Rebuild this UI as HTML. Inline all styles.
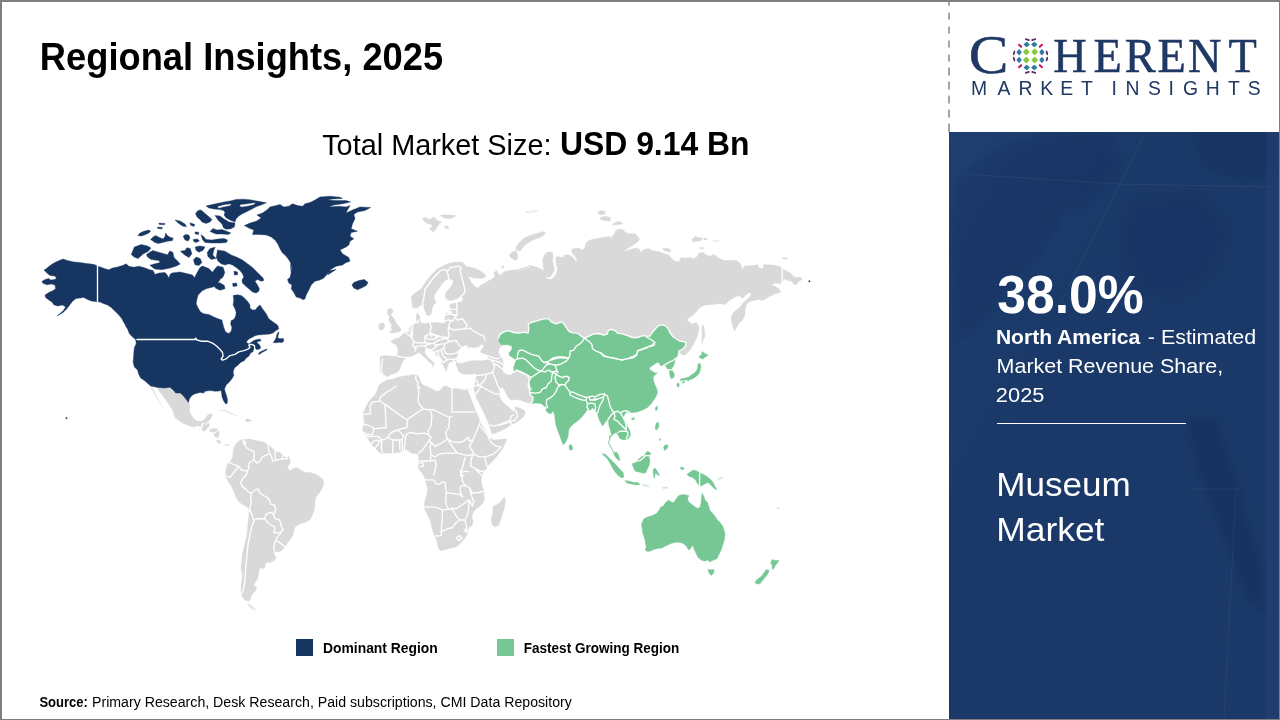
<!DOCTYPE html>
<html lang="en"><head><meta charset="utf-8"><title>Regional Insights, 2025</title>
<style>
*{margin:0;padding:0;box-sizing:border-box}
html,body{width:1280px;height:720px;overflow:hidden;background:#fff}
body{position:relative;font-family:"Liberation Sans",sans-serif}
.t{position:absolute;white-space:nowrap;line-height:1;transform-origin:0 0}
.abs{position:absolute}
#frame{position:absolute;left:0;top:0;width:1280px;height:720px;border-style:solid;border-color:#7f7f7f;border-width:2px 1px 1px 2px;pointer-events:none}
#panel{position:absolute;left:949px;top:132px;width:331px;height:588px;background:#1a3968;overflow:hidden}
#dash{position:absolute;left:948px;top:0;width:2px;height:132px;background:repeating-linear-gradient(to bottom,#a6a6a6 0,#a6a6a6 7.5px,transparent 7.5px,transparent 13.9px);background-position:0 -1.4px}
#rule{position:absolute;left:997px;top:423px;width:189px;height:1.3px;background:#fff}
.sw{position:absolute;width:17px;height:17px;top:639px}
svg{position:absolute;left:0;top:0}
</style></head>
<body>
<div id="panel"><svg width="330" height="587" viewBox="949 132 330 587" aria-hidden="true" style="left:0;top:0"><defs><linearGradient id="pg" x1="0" y1="0" x2="1" y2="1"><stop offset="0" stop-color="#1e3f70"/><stop offset="0.35" stop-color="#1a3968"/><stop offset="1" stop-color="#1a3968"/></linearGradient><filter id="bl" x="-20%" y="-20%" width="140%" height="140%"><feGaussianBlur stdDeviation="3"/></filter></defs><rect x="949" y="132" width="330" height="587" fill="url(#pg)"/><g filter="url(#bl)" fill="#142e5c" opacity="0.55"><path d="M960,180 L1000,150 L1050,135 L1110,133 L1120,170 L1090,200 L1060,215 L1040,250 L1020,280 L1000,300 L975,330 L955,340 L950,240Z" opacity="0.5"/><path d="M1195,132 L1279,132 L1279,175 L1240,178 L1205,165Z" opacity="0.6"/><path d="M1188,420 L1215,420 L1225,450 L1235,480 L1245,520 L1258,560 L1262,610 L1250,600 L1235,560 L1215,510 L1200,470Z"/><path d="M1130,200 L1200,195 L1230,230 L1215,270 L1180,300 L1140,290 L1120,250Z" opacity="0.35"/></g><g stroke="#fff" fill="none" stroke-width="0.8" opacity="0.07"><path d="M962,174 L1120,184 L1270,187"/><path d="M1145,132 L1100,225 L1062,300"/><path d="M1190,489 L1240,489"/><path d="M1236,489 L1224,719"/></g><rect x="1266" y="132" width="14" height="587" fill="#3a4f8c" opacity="0.22"/></svg></div>
<div id="dash"></div>
<svg id="map" width="1280" height="720" viewBox="0 0 1280 720" role="img" aria-label="World map">
<defs><filter id="soft" x="0" y="0" width="100%" height="100%" filterUnits="userSpaceOnUse"><feGaussianBlur stdDeviation="0.45"/></filter></defs>
<g filter="url(#soft)">
<path d="M150.0,386.2 L152.5,387.2 L155.0,392.5 L157.5,397.5 L160.0,402.5 L162.5,406.9 L163.8,408.5 L161.2,405.6 L158.8,401.2 L155.6,396.2 L153.1,391.9 L151.2,389.0Z M223.8,444.4 L227.5,444.0 L230.0,445.0 L227.5,446.0 L225.0,445.6Z M217.5,410.6 L225.0,410.0 L232.5,413.5 L238.8,416.5 L232.5,414.5 L225.0,411.2Z M247.5,603.1 L251.2,604.4 L256.2,610.0 L252.5,609.4 L249.4,606.9Z M416.9,360.6 L418.8,360.6 L418.8,365.0 L417.0,365.0Z M417.2,356.2 L418.5,356.2 L418.5,359.4 L417.5,359.4Z M450.0,375.0 L455.0,374.8 L455.0,375.8 L450.2,376.0Z M468.1,376.9 L471.2,376.0 L471.5,377.2 L468.8,377.8Z M712.5,240.2 L719.4,240.8 L719.0,241.8 L713.1,241.2Z M525.0,211.9 L531.2,211.2 L537.5,210.2 L537.2,211.2 L531.2,212.5 L525.6,212.9Z M407.8,330.0 L410.0,326.9 L412.2,325.0 L412.5,327.5 L411.2,330.0 L408.8,331.0Z" fill="#e8e8e8" stroke="#e8e8e8" stroke-width="0.4" stroke-linejoin="round"/>
<path d="M717.5,478.8 L722.5,477.2 L722.8,478.2 L718.0,479.8Z M642.5,484.4 L648.8,485.6 L648.5,486.5 L642.5,485.2Z M662.5,487.5 L667.5,486.9 L667.5,488.1 L663.1,488.8Z M776.9,507.8 L779.4,508.2 L779.1,509.0 L777.0,508.8Z" fill="#c4e7d1" stroke="#c4e7d1" stroke-width="0.4" stroke-linejoin="round"/>
<path d="M157.5,387.8 L166.9,388.1 L170.6,389.0 L174.4,392.5 L179.4,393.1 L183.1,396.2 L186.2,399.8 L189.0,402.2 L189.8,406.2 L189.4,410.6 L191.2,415.0 L193.8,418.8 L197.5,421.2 L202.5,421.2 L205.6,418.1 L208.1,414.4 L212.5,414.0 L211.2,417.5 L208.8,421.0 L206.2,422.8 L203.1,423.1 L201.2,426.9 L197.5,425.6 L193.8,426.9 L190.0,426.2 L186.2,424.4 L182.5,423.1 L178.8,420.6 L175.0,417.5 L173.8,413.8 L172.5,410.0 L170.0,406.2 L167.5,402.5 L165.0,398.8 L161.9,394.4 L158.8,390.6Z M203.1,423.1 L205.0,422.5 L205.6,426.2 L207.5,423.1 L209.4,423.8 L208.8,426.9 L206.2,429.4 L204.4,431.2 L201.9,430.0 L202.5,426.9Z M208.8,430.0 L211.9,428.8 L216.2,428.5 L218.1,430.0 L215.0,431.9 L211.2,432.2Z M213.8,434.4 L216.9,431.9 L219.4,431.2 L219.0,435.0 L218.1,437.8 L215.0,436.9Z M216.5,440.6 L218.8,440.0 L221.2,442.5 L220.0,443.8 L217.8,442.5Z M245.0,420.6 L246.9,418.5 L250.0,419.8 L251.9,420.6 L247.5,421.9Z M233.8,447.5 L237.5,441.9 L242.5,439.0 L246.2,439.4 L250.0,438.8 L255.0,440.6 L260.0,441.2 L265.0,442.5 L268.1,445.6 L271.9,447.5 L275.0,451.9 L280.0,452.5 L283.8,456.2 L287.5,458.1 L288.8,456.2 L290.6,461.9 L287.5,467.5 L290.0,470.6 L293.1,468.8 L296.2,467.5 L300.0,469.4 L305.0,472.5 L310.0,472.5 L315.0,473.8 L320.0,476.9 L323.1,479.4 L323.8,483.8 L321.9,488.8 L318.8,493.8 L316.2,496.2 L315.0,501.2 L314.8,506.2 L313.8,511.2 L311.9,516.2 L310.0,520.0 L310.0,519.4 L306.2,521.9 L300.0,523.8 L295.0,526.9 L293.8,531.2 L293.1,535.0 L290.0,539.4 L287.5,543.1 L285.6,546.2 L283.8,548.1 L281.9,550.6 L278.8,551.9 L275.0,551.2 L273.8,553.1 L275.0,555.6 L276.2,558.1 L274.4,560.6 L271.2,562.2 L266.2,562.8 L265.0,566.2 L264.4,568.5 L260.0,568.1 L258.8,571.2 L258.5,575.0 L257.5,578.8 L255.0,582.5 L253.8,585.0 L256.9,588.5 L255.0,591.2 L252.5,593.8 L251.2,596.2 L250.0,600.0 L250.0,600.0 L248.8,601.2 L245.0,600.0 L242.5,596.9 L241.9,595.0 L241.0,590.0 L241.2,585.0 L241.9,580.0 L242.5,575.0 L241.2,570.0 L241.2,565.0 L241.9,560.0 L242.5,553.8 L243.8,547.5 L245.6,541.2 L246.9,535.0 L247.5,528.8 L248.1,522.5 L248.8,516.2 L249.4,510.0 L249.4,513.8 L248.8,508.8 L246.2,506.2 L241.2,503.8 L237.5,500.0 L235.6,496.2 L233.8,491.2 L231.2,486.2 L228.1,481.2 L226.2,477.5 L225.6,473.1 L226.2,468.8 L227.5,464.4 L230.0,461.9 L232.5,457.5 L233.1,452.5Z M387.5,379.4 L378.8,385.0 L377.5,390.0 L375.0,395.0 L371.2,398.8 L367.5,403.8 L365.0,408.8 L363.1,413.1 L363.8,418.8 L364.4,423.8 L362.5,428.1 L363.1,432.5 L366.2,436.2 L368.8,440.0 L371.2,443.8 L375.0,448.1 L378.8,451.9 L381.9,453.8 L386.2,453.1 L392.5,453.1 L398.8,452.5 L403.8,450.0 L407.5,450.0 L411.2,453.1 L417.5,453.8 L418.8,457.5 L418.8,462.5 L418.1,467.5 L420.0,471.2 L420.0,470.0 L422.5,473.8 L425.0,478.8 L426.2,483.8 L427.5,488.8 L426.9,495.0 L425.0,500.0 L424.0,506.2 L425.0,510.0 L427.5,515.0 L430.0,520.0 L431.2,525.0 L432.5,530.0 L433.8,533.8 L435.0,536.9 L436.9,541.2 L438.1,546.2 L439.4,550.0 L441.2,550.6 L446.2,549.4 L451.2,548.1 L456.2,546.9 L460.0,543.8 L463.8,539.4 L466.9,535.0 L468.1,531.2 L468.8,527.5 L472.5,525.0 L473.1,521.2 L471.9,517.5 L472.5,513.8 L475.0,510.0 L478.8,506.9 L482.5,503.8 L484.4,500.0 L484.0,495.0 L483.5,490.0 L481.9,485.0 L481.2,480.0 L481.9,475.0 L484.4,470.0 L485.0,471.2 L487.5,466.2 L491.2,462.5 L495.0,458.8 L498.8,453.8 L502.5,448.8 L505.0,443.8 L506.9,438.8 L500.0,439.4 L493.8,440.0 L490.6,438.1 L491.2,433.1 L493.8,433.8 L500.0,431.2 L507.5,427.5 L511.2,423.8 L515.0,421.2 L505.0,427.5 L511.2,425.0 L516.2,422.5 L520.0,420.0 L523.8,416.2 L525.6,412.5 L523.8,410.0 L518.8,407.5 L515.0,406.2 L516.2,399.8 L520.0,400.0 L525.0,401.9 L530.5,403.2 L537.5,399.4 L556.2,400.0 L600.0,400.0 L620.0,360.0 L650.0,345.0 L672.0,345.0 L679.0,353.0 L680.0,353.1 L682.5,355.0 L685.0,355.0 L687.5,353.1 L690.0,350.0 L692.5,346.2 L695.0,341.2 L697.5,336.2 L698.8,331.2 L698.8,326.2 L696.2,322.5 L692.5,324.0 L690.0,322.5 L686.9,320.0 L688.8,318.1 L692.5,315.6 L696.2,311.9 L700.0,307.5 L705.0,305.0 L712.5,304.4 L718.8,303.8 L725.0,304.4 L730.0,300.0 L735.0,296.9 L740.0,295.6 L741.2,298.1 L743.8,297.5 L746.2,294.4 L749.4,292.5 L751.2,294.4 L748.8,297.5 L746.2,300.0 L743.1,303.1 L740.0,306.9 L736.2,310.0 L733.1,313.1 L731.2,317.5 L731.9,322.5 L733.1,327.5 L734.4,331.0 L736.2,328.1 L738.8,323.8 L742.5,320.0 L745.0,315.0 L745.0,310.0 L746.2,305.0 L748.8,301.9 L753.8,300.6 L758.8,299.4 L762.5,300.6 L768.8,296.9 L775.0,293.8 L780.0,292.5 L780.6,291.9 L778.8,288.8 L775.0,286.2 L771.2,285.0 L775.0,283.1 L780.0,283.8 L782.5,282.5 L783.8,278.8 L787.5,280.6 L791.9,281.2 L793.8,284.4 L796.9,284.4 L798.8,281.2 L802.5,279.4 L800.0,276.9 L796.2,277.5 L793.8,276.9 L791.2,273.8 L787.5,271.2 L783.1,269.4 L781.9,267.5 L778.8,266.2 L773.8,265.0 L767.5,264.8 L763.8,264.4 L762.5,268.8 L758.8,267.5 L757.5,264.4 L755.0,265.6 L750.0,265.6 L744.4,266.2 L742.5,270.0 L741.9,267.5 L740.0,263.1 L736.2,260.6 L730.0,260.2 L725.0,260.6 L720.0,258.8 L716.2,256.2 L713.8,254.4 L710.0,256.2 L706.2,255.0 L703.8,252.5 L698.8,253.1 L697.5,256.2 L693.8,258.8 L690.0,257.5 L685.0,258.1 L681.2,257.5 L678.8,261.9 L675.0,261.2 L671.2,258.1 L668.8,255.0 L665.0,253.8 L660.0,251.9 L655.0,251.2 L657.5,251.9 L652.5,250.6 L648.8,248.5 L643.8,249.4 L641.2,252.5 L640.0,250.0 L637.5,248.1 L632.5,248.8 L627.5,250.6 L623.1,251.9 L626.2,249.4 L631.2,246.2 L636.2,243.1 L639.4,240.0 L638.8,237.5 L635.0,233.8 L630.0,233.8 L625.0,232.5 L623.8,230.0 L620.0,229.0 L616.2,230.0 L615.0,232.5 L612.5,236.2 L611.2,239.4 L610.6,236.2 L606.2,236.9 L600.0,238.1 L593.8,239.0 L588.8,240.6 L585.6,243.8 L585.0,247.5 L582.5,250.0 L578.8,248.1 L573.8,248.5 L571.2,250.0 L572.5,253.8 L575.0,256.2 L576.9,260.0 L576.2,263.1 L575.0,260.0 L572.5,256.9 L568.8,254.8 L565.0,255.0 L562.5,257.5 L559.4,256.9 L556.9,256.2 L555.6,258.8 L556.2,263.8 L557.5,268.8 L556.9,272.5 L555.0,276.2 L551.2,279.4 L546.9,278.8 L545.6,276.9 L550.0,276.9 L552.5,273.8 L554.4,270.0 L553.8,266.2 L552.5,261.2 L553.1,256.2 L552.5,252.2 L547.5,251.9 L544.4,255.0 L542.5,260.0 L543.1,265.0 L543.8,271.9 L542.5,270.0 L537.5,267.5 L532.5,266.0 L528.1,265.6 L527.5,268.1 L522.5,269.8 L515.0,270.0 L508.8,270.6 L503.8,271.9 L500.0,275.0 L531.2,265.6 L528.8,267.5 L525.0,270.0 L520.0,270.6 L515.0,270.0 L510.0,271.2 L505.0,273.8 L500.0,275.6 L498.1,273.8 L496.9,270.6 L493.8,272.5 L495.0,276.9 L491.2,279.4 L487.5,281.2 L483.8,283.8 L480.0,285.6 L478.8,288.1 L475.0,286.9 L472.5,283.8 L470.0,280.0 L467.5,275.6 L470.0,276.9 L475.0,278.1 L481.2,278.5 L485.6,276.9 L485.0,274.4 L480.0,270.6 L473.8,268.1 L466.2,266.2 L462.5,262.2 L457.5,261.9 L452.5,262.5 L447.5,263.8 L442.5,266.2 L437.5,268.8 L433.8,272.5 L430.0,276.2 L426.2,281.2 L423.8,285.0 L421.2,288.8 L417.5,291.2 L413.8,293.8 L411.2,297.5 L411.9,302.5 L412.5,307.5 L416.2,308.1 L419.4,306.5 L417.5,312.5 L416.2,315.6 L416.2,320.0 L418.1,322.5 L415.0,323.8 L413.8,324.4 L412.8,326.2 L412.1,329.0 L411.5,330.9 L409.4,331.9 L406.2,332.5 L404.4,333.1 L401.9,335.0 L398.8,338.1 L395.0,338.8 L390.6,341.2 L392.5,343.1 L396.2,345.0 L398.1,350.0 L397.5,356.2 L392.5,356.2 L386.2,355.6 L380.6,356.2 L380.0,358.8 L380.6,363.8 L380.0,368.8 L380.6,372.5 L382.5,374.4 L385.0,375.0 L386.9,376.9Z M387.5,310.0 L390.0,308.1 L393.1,310.0 L392.5,312.5 L390.6,315.0 L393.8,318.1 L395.6,321.9 L397.5,325.0 L400.0,327.5 L401.2,330.0 L398.8,331.9 L395.0,332.5 L391.2,333.1 L389.4,331.9 L392.5,330.0 L390.6,328.1 L391.9,325.6 L390.0,322.5 L388.8,319.4 L389.4,316.2 L387.5,313.8Z M378.8,325.0 L380.6,323.1 L383.8,323.1 L384.8,325.6 L383.8,328.8 L380.6,330.2 L378.8,328.8Z M425.6,370.6 L430.0,370.0 L429.4,372.5 L426.9,372.2Z M468.1,348.1 L470.6,346.9 L473.8,348.1 L475.0,349.0 L472.5,350.6 L470.0,350.0Z M515.6,248.1 L519.4,242.5 L524.4,238.1 L530.6,235.2 L537.5,233.2 L543.8,231.5 L545.6,233.5 L541.9,236.5 L535.6,239.0 L530.0,241.5 L525.6,244.8 L522.5,247.8 L520.2,251.0 L517.2,250.2Z M509.0,255.6 L512.2,251.9 L516.2,250.6 L517.2,254.4 L517.8,258.8 L515.6,260.5 L511.5,258.2Z M501.5,266.5 L503.5,266.0 L504.0,267.8 L502.0,268.2Z M597.5,212.5 L601.2,210.2 L605.0,211.2 L605.0,214.0 L600.0,215.0Z M600.0,217.5 L605.0,216.2 L610.6,217.5 L610.0,221.2 L605.0,220.6 L601.2,220.0Z M611.9,225.0 L616.2,221.9 L620.0,221.2 L623.1,223.8 L617.5,224.8Z M691.9,239.4 L695.0,236.5 L698.8,237.5 L702.5,238.1 L701.2,240.6 L696.2,241.5 L693.1,241.9Z M703.8,238.1 L706.9,238.1 L706.9,240.0 L704.4,240.0Z M699.4,247.2 L703.8,247.8 L703.1,249.0 L699.8,248.5Z M662.5,248.5 L667.5,248.1 L671.2,250.0 L670.0,251.9 L666.2,251.2 L663.8,250.6Z M782.5,257.8 L787.5,257.5 L787.2,259.0 L782.8,259.0Z M422.5,218.1 L426.2,217.5 L429.4,219.4 L431.9,218.1 L433.8,216.9 L436.2,219.4 L438.8,221.2 L441.9,221.9 L438.8,224.4 L436.9,227.5 L435.0,230.6 L433.1,231.9 L430.6,230.0 L429.4,228.8 L432.5,226.2 L431.2,224.4 L428.1,223.8 L425.0,221.9 L423.1,220.0Z M440.0,215.6 L443.8,214.8 L450.0,215.0 L455.6,215.6 L453.8,217.5 L450.0,218.8 L446.2,218.5 L443.1,217.2Z M444.4,226.0 L447.5,226.2 L449.4,228.1 L446.9,228.8 L444.8,227.8Z M701.9,326.2 L703.8,325.0 L704.4,331.2 L705.0,336.2 L703.1,340.0 L702.5,343.8 L701.9,340.0 L702.2,335.0 L701.9,330.0Z M493.1,506.2 L496.2,505.0 L500.0,502.5 L502.5,499.4 L504.4,496.9 L505.6,501.2 L504.4,507.5 L502.5,513.8 L500.6,520.0 L498.8,525.0 L495.0,526.9 L492.5,525.0 L491.2,520.0 L492.5,513.8 L493.1,510.0Z" fill="#d9d9d9" stroke="#d9d9d9" stroke-width="0.4" stroke-linejoin="round"/>
<path d="M498.1,338.8 L500.0,334.4 L503.8,331.9 L508.8,330.6 L513.8,332.5 L518.8,333.1 L523.8,332.2 L528.1,333.1 L528.8,328.8 L528.1,324.4 L531.2,322.5 L537.5,320.6 L543.8,318.8 L548.8,318.8 L551.2,321.9 L556.2,323.8 L561.2,321.9 L563.8,323.8 L566.2,327.5 L568.8,331.2 L572.5,332.8 L577.5,333.1 L581.2,336.2 L584.4,338.1 L588.8,336.2 L593.8,333.8 L598.8,333.5 L603.8,335.0 L607.5,333.8 L608.1,330.6 L611.2,329.4 L615.0,330.6 L617.5,333.1 L622.5,333.8 L627.5,335.6 L632.5,337.5 L637.5,337.5 L642.5,335.6 L647.5,336.2 L650.0,336.0 L653.0,331.5 L657.0,327.0 L660.0,324.8 L663.8,325.0 L667.5,327.5 L670.0,332.5 L672.5,336.2 L676.2,338.8 L680.0,341.2 L685.0,341.9 L686.2,343.8 L684.4,347.5 L681.2,350.0 L678.8,351.2 L679.4,353.8 L678.1,352.5 L676.9,357.5 L675.0,360.6 L674.4,363.8 L672.5,367.5 L671.9,368.8 L672.5,371.2 L674.4,373.8 L673.8,377.5 L671.2,378.8 L670.0,376.2 L669.4,371.9 L668.8,370.0 L666.9,368.1 L665.0,365.0 L662.5,366.2 L660.0,365.0 L658.8,362.5 L656.2,363.1 L652.5,365.6 L649.4,368.1 L650.0,370.0 L652.5,371.2 L655.0,373.1 L657.5,372.8 L655.0,375.0 L653.1,377.5 L653.8,381.2 L655.0,385.0 L656.9,388.8 L657.5,392.5 L656.2,396.2 L653.8,400.0 L651.2,403.8 L647.5,407.5 L642.5,410.0 L637.5,411.9 L632.5,412.5 L627.5,411.9 L637.5,410.6 L633.8,411.9 L630.0,412.5 L626.9,411.9 L625.0,413.8 L623.1,417.5 L625.0,420.0 L626.2,423.8 L628.1,427.5 L630.0,431.2 L630.6,435.0 L628.8,438.1 L626.2,439.4 L623.8,440.0 L620.0,438.8 L618.1,435.0 L616.2,432.5 L613.8,433.8 L611.2,436.2 L610.0,438.8 L608.8,442.5 L610.6,446.2 L612.5,450.0 L613.8,452.5 L616.9,452.2 L618.8,455.6 L620.0,460.6 L618.1,460.0 L615.6,457.5 L614.4,455.0 L611.9,449.4 L610.0,446.2 L610.0,446.2 L608.5,443.1 L609.4,438.8 L610.0,432.5 L608.8,428.8 L607.5,423.8 L606.2,420.0 L604.4,423.8 L602.5,426.0 L600.6,422.5 L598.8,418.8 L597.5,413.8 L595.0,410.0 L592.5,408.1 L590.0,410.6 L588.1,408.8 L586.2,411.2 L582.5,416.2 L578.8,420.0 L573.8,423.8 L570.0,427.5 L568.8,430.0 L568.1,436.2 L566.2,441.2 L563.5,445.0 L561.9,441.9 L560.0,436.2 L557.5,430.0 L555.6,423.8 L555.0,418.8 L554.4,413.8 L552.5,411.2 L551.2,413.8 L548.1,413.1 L545.6,410.0 L547.5,407.5 L544.4,406.2 L541.2,403.8 L536.2,403.1 L530.6,403.5 L532.5,401.2 L533.1,397.5 L530.0,394.4 L529.4,390.0 L528.1,385.0 L529.4,380.0 L527.5,375.6 L522.5,372.5 L516.2,370.0 L531.2,377.5 L527.5,375.0 L522.5,372.5 L517.5,370.6 L513.8,371.9 L513.1,367.5 L514.4,363.8 L515.6,360.6 L512.5,358.1 L508.8,355.6 L508.8,352.5 L511.2,350.0 L511.5,346.5 L507.5,345.0 L502.5,345.6 L499.4,342.5Z M569.4,445.0 L571.2,444.4 L572.8,447.5 L572.2,450.0 L570.0,450.2 L569.0,447.5Z M631.2,418.8 L633.8,417.5 L634.8,418.8 L632.5,420.2Z M655.6,407.5 L657.2,406.0 L657.8,408.1 L656.5,410.6 L655.2,410.0Z M698.8,357.0 L701.5,354.5 L702.0,351.5 L704.5,353.2 L708.2,355.2 L705.2,357.1 L703.2,359.0 L700.5,358.2Z M698.1,363.8 L700.2,363.5 L701.0,366.9 L700.2,370.6 L698.8,374.0 L695.6,376.9 L692.5,378.8 L689.4,379.8 L688.1,381.2 L686.9,379.8 L683.1,380.2 L680.0,380.6 L680.6,379.0 L685.0,378.1 L688.8,376.9 L691.2,375.0 L694.4,373.1 L696.9,370.0 L697.8,366.9Z M676.9,383.8 L678.5,382.8 L679.4,385.0 L678.5,387.2 L677.0,386.5Z M681.9,381.9 L685.0,381.2 L684.4,382.8 L682.2,383.1Z M655.0,428.8 L656.0,423.8 L657.5,421.9 L659.0,423.8 L658.5,427.5 L656.9,430.0Z M663.5,446.9 L665.0,445.0 L667.5,444.8 L668.1,446.9 L666.2,449.4 L664.4,450.6Z M659.4,438.8 L660.6,438.8 L660.6,440.2 L659.4,440.2Z M602.5,453.5 L605.6,454.4 L610.0,458.8 L614.4,463.1 L618.8,468.1 L623.1,472.5 L624.0,476.9 L621.9,478.1 L618.1,475.6 L615.0,471.9 L611.9,466.9 L609.4,461.9 L606.2,457.5 L603.1,455.0Z M625.0,480.6 L628.8,481.0 L633.8,482.5 L638.1,482.5 L640.0,484.4 L636.2,485.0 L631.2,484.0 L626.9,483.1Z M631.9,463.8 L635.0,463.1 L637.5,460.0 L641.2,456.9 L645.0,455.6 L645.6,453.1 L647.5,451.2 L650.0,452.5 L651.2,453.8 L648.8,455.6 L650.0,460.0 L649.4,465.0 L647.5,468.8 L645.6,473.1 L642.5,473.1 L638.8,471.9 L635.0,471.2 L633.8,468.1Z M653.1,469.4 L655.0,468.1 L656.9,470.6 L658.8,473.8 L659.4,475.6 L657.5,475.0 L655.6,472.5 L655.0,475.6 L654.4,478.5 L653.5,475.0Z M679.8,468.1 L681.9,466.9 L684.4,468.5 L682.5,470.0Z M686.9,474.4 L690.0,471.9 L693.8,470.0 L697.5,471.2 L700.0,473.1 L703.8,474.4 L707.5,476.9 L711.2,480.0 L713.1,482.5 L715.0,486.2 L716.9,489.4 L714.4,488.8 L711.2,485.6 L708.1,482.5 L705.0,483.8 L702.5,485.6 L700.0,486.2 L697.5,483.8 L695.6,480.0 L692.5,477.5 L688.8,476.2Z M641.9,523.1 L643.8,518.8 L647.5,516.9 L652.5,515.6 L656.9,513.1 L660.0,508.8 L660.6,506.9 L663.1,506.2 L665.6,502.5 L668.8,500.0 L671.2,501.9 L673.8,502.5 L676.2,498.8 L678.8,495.6 L682.5,494.4 L686.2,495.0 L688.8,495.6 L687.5,498.8 L688.8,501.9 L691.9,504.4 L695.0,506.9 L698.1,508.5 L700.0,506.9 L701.0,502.5 L701.5,497.5 L702.2,493.1 L703.8,496.2 L705.0,500.0 L707.5,502.5 L708.8,506.2 L710.0,510.6 L712.5,513.1 L715.0,516.2 L717.5,520.0 L720.6,523.1 L723.1,526.9 L724.4,531.2 L725.0,535.0 L724.4,539.4 L723.1,543.8 L721.9,548.1 L720.0,552.5 L718.1,556.2 L716.9,558.8 L712.5,560.6 L710.0,561.9 L707.5,560.0 L705.0,561.2 L701.2,560.0 L698.1,557.5 L696.2,553.8 L694.4,550.0 L693.1,546.2 L691.9,545.6 L691.2,548.1 L688.8,550.0 L686.2,546.2 L683.8,543.8 L680.0,542.5 L676.2,542.2 L672.5,543.1 L668.8,544.4 L665.0,546.2 L661.9,548.1 L657.5,548.5 L653.8,549.4 L650.0,551.2 L647.5,551.5 L645.0,550.0 L646.2,547.5 L645.6,543.8 L645.0,540.0 L643.8,536.2 L642.5,532.5 L642.2,528.8 L641.5,525.6Z M707.8,569.4 L710.6,569.8 L714.0,569.4 L713.8,573.1 L711.2,575.6 L709.0,573.1Z M771.9,559.4 L773.8,560.0 L776.2,560.6 L779.0,560.2 L777.5,563.1 L775.6,565.0 L774.4,567.5 L772.8,569.8 L771.9,567.5 L772.5,565.0 L770.6,563.8 L771.5,561.2Z M766.2,569.4 L769.4,570.6 L767.5,574.4 L765.0,577.5 L762.5,580.6 L760.0,583.8 L756.9,584.0 L755.0,582.5 L756.9,579.4 L760.0,577.5 L762.5,575.0 L764.4,571.9Z" fill="#76c794" stroke="#76c794" stroke-width="0.4" stroke-linejoin="round"/>
<path d="M56.9,316.0 L61.2,312.5 L63.8,310.0 L65.6,306.9 L62.5,305.0 L57.5,306.0 L53.8,304.8 L51.9,301.9 L48.8,300.0 L45.6,297.5 L45.0,295.0 L48.8,292.5 L53.1,290.6 L55.6,288.8 L55.0,285.0 L51.2,284.0 L46.9,284.8 L42.5,283.1 L42.2,281.2 L45.0,279.4 L48.8,278.5 L50.6,280.0 L55.0,279.4 L56.5,277.8 L54.4,276.0 L50.0,275.6 L46.9,273.1 L44.0,270.0 L46.2,268.8 L50.0,265.6 L53.8,263.1 L58.1,261.0 L63.1,259.0 L67.5,260.6 L73.8,261.9 L80.0,262.5 L86.2,263.5 L91.2,264.0 L95.0,264.8 L97.5,266.2 L101.2,267.2 L105.0,268.8 L108.8,269.8 L112.5,268.1 L117.5,266.9 L122.5,265.6 L126.2,263.8 L128.8,266.2 L133.8,267.2 L138.8,266.2 L143.8,267.5 L148.8,269.4 L153.1,270.6 L155.0,274.4 L158.8,273.1 L165.0,272.5 L166.9,274.4 L168.8,278.1 L170.0,274.4 L171.9,272.9 L180.0,271.9 L187.5,273.8 L192.5,275.0 L194.4,277.8 L196.9,273.1 L200.0,267.5 L202.5,266.0 L208.8,268.5 L212.5,272.2 L215.0,268.8 L217.5,266.0 L223.1,267.2 L224.8,272.5 L223.1,276.9 L220.0,279.4 L218.1,282.8 L215.6,286.2 L211.2,287.5 L206.9,288.5 L202.5,290.6 L198.1,295.0 L196.9,299.4 L196.2,303.8 L198.1,308.1 L200.6,311.9 L203.8,313.8 L208.8,314.4 L213.8,316.9 L218.1,318.8 L221.9,320.0 L222.5,322.5 L223.8,327.5 L225.6,331.9 L228.8,333.5 L231.2,331.2 L231.9,327.5 L230.6,323.8 L231.2,320.6 L233.8,319.4 L235.6,316.2 L236.2,312.5 L235.0,308.8 L233.1,305.0 L233.8,300.0 L233.1,295.6 L237.5,294.8 L241.2,295.6 L243.8,297.5 L247.5,301.2 L250.0,305.0 L250.0,308.1 L252.5,310.0 L255.6,309.8 L257.5,306.9 L260.0,305.0 L262.5,308.8 L266.2,313.8 L268.8,318.8 L273.8,322.5 L277.5,325.0 L278.8,328.8 L275.0,331.2 L273.8,332.6 L270.0,334.1 L263.8,334.5 L258.1,334.9 L255.0,335.8 L252.5,337.2 L249.4,338.8 L246.9,340.9 L246.6,342.8 L249.4,344.1 L251.2,342.2 L253.8,340.6 L256.9,339.5 L260.3,339.2 L261.1,340.3 L260.0,341.2 L257.5,341.6 L256.9,342.8 L258.8,344.1 L260.3,346.2 L260.6,348.1 L259.1,349.2 L256.6,349.4 L255.0,348.4 L254.2,350.0 L253.8,351.2 L252.5,351.9 L250.6,353.1 L248.8,356.2 L246.2,358.1 L244.4,360.6 L240.6,362.5 L237.5,365.6 L234.4,368.1 L233.1,371.9 L233.8,375.6 L231.9,378.8 L229.4,381.9 L226.2,385.0 L224.5,388.8 L225.2,391.9 L226.5,395.6 L227.5,400.0 L227.2,403.2 L225.8,404.1 L223.8,401.2 L222.2,397.5 L221.5,393.1 L220.8,390.0 L219.4,391.0 L215.0,391.2 L210.0,390.6 L205.0,391.2 L203.8,393.1 L200.0,392.5 L195.0,393.8 L191.9,395.6 L189.4,398.8 L188.5,402.5 L187.5,401.2 L185.0,398.1 L182.5,395.0 L180.0,393.1 L175.6,393.1 L173.1,390.0 L170.0,387.5 L163.8,388.1 L157.5,387.5 L150.6,386.0 L148.1,383.8 L144.4,380.6 L140.6,378.1 L138.8,374.4 L137.5,370.0 L134.4,366.9 L133.1,362.5 L133.5,357.5 L133.8,352.5 L134.4,347.5 L136.2,343.8 L135.6,339.4 L132.5,336.9 L129.4,333.8 L127.5,328.8 L125.0,325.0 L133.8,335.0 L131.2,333.1 L128.8,330.0 L126.2,326.2 L123.8,322.5 L121.9,318.8 L118.8,315.0 L115.0,311.2 L111.2,307.5 L107.5,305.0 L103.8,303.8 L100.0,301.9 L97.5,301.9 L95.0,301.5 L91.2,301.0 L87.5,299.4 L83.8,297.5 L80.0,298.1 L76.2,298.5 L72.5,301.2 L68.8,306.2 L66.2,309.4 L62.5,313.1Z M244.4,225.6 L250.0,223.1 L256.2,221.2 L261.2,218.1 L256.9,215.0 L262.5,213.1 L267.5,209.4 L270.0,206.9 L276.2,205.6 L280.0,204.4 L283.8,206.9 L288.8,206.2 L292.5,203.8 L297.5,205.6 L302.5,206.2 L305.0,203.8 L310.0,202.5 L315.0,200.0 L320.0,196.9 L330.0,196.2 L340.0,197.2 L342.5,198.5 L332.5,199.0 L327.5,200.0 L336.2,200.6 L346.2,200.6 L350.6,201.9 L342.5,203.8 L333.8,205.0 L328.8,206.9 L338.8,206.2 L346.2,206.9 L350.0,205.6 L347.5,210.0 L346.2,213.1 L352.5,210.0 L360.0,206.9 L370.6,207.5 L365.0,210.6 L357.5,211.9 L353.8,214.4 L355.0,218.8 L352.5,223.8 L351.2,228.8 L357.5,231.2 L351.2,232.5 L350.0,236.2 L353.8,238.8 L350.0,241.2 L348.8,245.0 L346.2,246.9 L340.0,250.0 L342.5,253.8 L348.8,257.5 L350.0,261.2 L346.2,262.5 L342.5,265.0 L336.2,266.2 L330.0,270.0 L327.5,275.0 L336.2,269.4 L330.0,270.6 L327.5,273.8 L323.8,278.1 L320.0,280.0 L315.0,281.2 L311.2,285.0 L308.8,290.0 L306.2,295.0 L305.0,298.8 L303.1,299.8 L300.0,298.1 L296.2,296.9 L293.8,292.5 L291.2,288.8 L291.9,285.0 L288.8,283.1 L287.5,279.4 L290.0,277.5 L291.2,272.5 L290.6,266.2 L291.2,260.0 L291.2,272.5 L291.9,267.5 L290.6,262.5 L287.5,258.1 L285.0,255.0 L282.5,253.1 L280.0,248.8 L278.1,244.4 L275.0,240.0 L271.2,236.9 L266.2,235.0 L258.8,234.4 L252.5,234.4 L253.8,230.0 L248.8,228.1Z M351.9,285.0 L353.8,282.5 L358.8,280.6 L364.4,279.4 L368.1,282.5 L366.2,285.6 L362.5,287.5 L357.5,289.8 L353.8,288.1Z M273.1,342.5 L275.0,340.0 L276.2,337.5 L276.9,334.4 L278.4,331.9 L279.1,332.5 L278.1,335.6 L277.8,338.1 L280.0,338.8 L283.4,338.4 L283.8,340.6 L282.5,342.5 L279.4,342.2 L276.2,342.8Z M258.4,353.8 L260.0,351.9 L263.1,350.6 L266.6,349.1 L266.9,350.0 L264.4,351.2 L261.2,353.1 L259.4,354.4Z M217.5,250.0 L225.0,251.2 L231.2,255.0 L237.5,257.5 L242.5,260.0 L247.5,263.8 L252.5,267.5 L256.2,271.2 L260.0,275.0 L263.1,278.1 L263.8,280.6 L261.2,281.2 L257.5,279.4 L255.0,281.2 L257.5,285.0 L259.4,288.8 L258.8,291.2 L256.2,293.1 L252.5,291.9 L248.8,288.8 L245.0,285.6 L242.5,283.1 L241.9,280.0 L243.8,276.9 L242.5,273.8 L240.0,270.6 L236.2,267.5 L232.5,265.0 L228.8,263.8 L225.0,265.0 L221.2,263.8 L218.1,261.2 L216.2,257.5 L216.9,253.8Z M206.0,206.0 L210.0,205.0 L217.0,203.5 L224.0,202.0 L230.0,201.0 L236.0,199.5 L243.0,199.2 L250.0,199.8 L258.0,201.2 L266.5,202.8 L261.0,205.0 L256.0,206.8 L252.0,209.0 L247.0,211.5 L242.0,214.0 L238.5,216.2 L236.0,219.0 L235.0,222.0 L230.0,220.0 L226.0,217.8 L224.0,215.0 L225.0,212.5 L223.5,210.5 L220.0,209.6 L214.0,209.0 L209.0,208.0Z M195.5,213.5 L198.0,210.5 L201.0,210.0 L204.0,212.5 L208.0,216.0 L212.0,219.5 L210.0,222.0 L206.0,223.5 L202.0,222.0 L200.0,219.5 L197.0,217.0Z M215.0,215.5 L220.0,216.0 L224.0,219.0 L229.0,222.0 L235.0,223.0 L234.5,226.8 L231.0,228.8 L226.0,229.2 L223.5,227.8 L222.0,224.0 L218.0,220.0Z M210.0,231.5 L213.0,228.5 L217.0,230.0 L222.0,229.5 L226.0,231.0 L231.0,233.0 L228.0,234.5 L222.0,234.0 L216.0,234.0Z M201.0,234.5 L204.0,237.0 L206.0,239.5 L212.0,240.0 L218.0,239.0 L224.0,238.5 L227.5,240.0 L226.5,242.5 L220.0,243.0 L212.0,243.0 L205.0,242.5 L202.5,239.5Z M175.0,220.0 L180.0,221.0 L185.0,224.0 L186.5,226.8 L182.5,226.0 L178.8,223.5Z M190.0,222.8 L194.8,224.4 L194.0,226.5 L190.6,225.2Z M158.8,223.1 L165.0,223.5 L164.4,224.8 L159.4,224.5Z M157.5,227.0 L162.5,227.5 L161.9,229.0 L157.8,228.5Z M137.8,235.6 L140.0,233.1 L143.8,231.2 L148.8,230.0 L150.6,231.2 L148.8,233.1 L145.0,234.8 L141.2,236.0Z M150.6,239.4 L153.1,236.9 L155.6,235.6 L159.4,237.5 L163.1,239.0 L165.0,236.5 L165.6,233.1 L167.5,235.6 L170.0,237.2 L173.1,238.1 L172.5,240.6 L167.5,241.2 L162.5,242.5 L158.1,243.5 L155.0,242.5Z M183.1,236.2 L185.6,234.4 L188.8,235.0 L190.0,238.1 L188.1,241.0 L185.0,240.0Z M193.1,239.4 L197.5,239.0 L199.4,241.0 L196.2,242.5 L193.8,241.5Z M195.0,231.9 L198.8,232.2 L198.5,234.4 L195.2,234.0Z M131.2,254.4 L134.4,246.9 L141.2,244.5 L147.5,246.0 L151.0,248.1 L148.1,251.5 L143.1,254.0 L138.1,258.5 L134.4,257.2Z M146.5,254.4 L152.5,250.4 L161.2,252.9 L167.5,254.8 L169.8,251.0 L172.8,252.2 L174.0,257.5 L177.8,261.2 L180.2,264.0 L176.5,266.0 L170.2,268.0 L161.5,269.8 L154.8,269.0 L149.8,265.2 L155.0,263.8 L160.0,262.5 L159.0,260.6 L151.2,259.6 L147.5,257.1Z M180.4,251.2 L185.0,250.4 L186.9,247.8 L190.2,248.5 L191.9,253.8 L189.0,257.5 L185.0,255.2Z M195.2,246.9 L200.0,245.9 L205.0,246.9 L203.1,250.2 L199.0,252.2 L196.0,250.2Z M193.4,260.0 L196.2,257.1 L200.2,258.5 L201.9,262.5 L199.0,265.5 L195.0,264.8Z M207.2,252.5 L210.0,248.5 L215.2,247.2 L213.5,251.2 L212.8,255.0 L216.0,258.5 L211.2,259.4 L207.9,256.5Z M235.0,271.9 L236.9,271.9 L237.2,274.0 L235.2,274.4Z M215.0,283.8 L220.0,282.8 L224.4,285.6 L225.0,288.8 L220.0,290.2 L215.2,288.1Z M233.8,271.2 L237.5,271.9 L237.5,274.8 L234.4,275.0Z M232.5,283.5 L236.5,282.9 L237.1,285.9 L233.1,286.5Z M65.9,417.6 L67.1,417.6 L67.1,418.8 L65.9,418.8Z M808.8,280.7 L810.0,280.7 L810.0,281.9 L808.8,281.9Z" fill="#173560" stroke="#173560" stroke-width="0.4" stroke-linejoin="round"/>
<path d="M240.0,205.0 L248.0,204.0 L255.0,203.0 L254.0,204.2 L248.0,205.8 L241.0,206.8Z M218.0,206.8 L224.0,205.0 L231.0,204.2 L230.0,205.4 L224.0,206.6 L218.5,208.0Z M244.0,441.2 L246.0,441.2 L246.2,444.0 L244.4,444.4Z M419.4,306.5 L422.5,305.0 L424.4,310.0 L426.2,315.0 L428.8,316.2 L431.9,313.8 L432.5,308.8 L433.8,305.0 L436.9,302.5 L435.0,300.0 L434.4,296.2 L436.2,292.5 L440.0,287.5 L442.5,283.8 L445.6,280.6 L448.8,279.4 L450.6,279.4 L453.1,281.2 L451.9,285.0 L448.8,288.8 L445.0,293.1 L445.0,297.5 L447.5,300.0 L451.2,301.2 L456.2,299.4 L461.2,296.2 L462.8,299.4 L461.2,301.5 L456.2,302.5 L450.0,303.8 L449.4,306.2 L450.0,308.8 L450.0,311.2 L452.8,311.9 L450.2,313.5 L445.6,312.5 L445.0,316.2 L444.4,320.0 L445.0,322.5 L442.5,323.1 L437.5,321.9 L431.2,322.5 L428.8,322.5 L425.0,323.1 L421.2,322.5 L420.6,320.0 L420.0,316.2 L418.8,314.4 L417.5,312.5Z M386.9,376.9 L391.2,375.0 L396.9,373.1 L400.0,369.4 L401.9,364.4 L404.4,359.8 L408.1,357.2 L412.5,356.5 L415.6,354.4 L418.8,353.1 L421.2,354.4 L423.8,356.9 L426.2,359.4 L428.8,361.9 L431.2,363.8 L432.5,365.6 L433.1,367.8 L434.2,366.5 L434.0,364.5 L434.6,363.1 L433.1,361.5 L430.6,359.4 L428.1,356.9 L426.2,354.4 L425.0,351.9 L425.6,349.4 L427.5,348.5 L430.0,349.4 L432.5,351.2 L435.0,353.8 L437.5,356.2 L439.4,358.1 L440.6,360.0 L441.0,362.5 L441.9,364.4 L443.1,365.0 L443.8,367.5 L445.0,369.4 L446.0,372.5 L446.9,370.6 L447.5,368.1 L448.1,365.6 L448.8,363.8 L450.0,362.5 L452.5,361.9 L455.0,361.9 L456.2,361.2 L455.6,364.4 L456.2,366.2 L457.5,368.8 L458.1,371.2 L460.0,373.1 L462.5,374.4 L465.0,374.4 L470.0,375.0 L475.0,373.8 L476.2,375.6 L475.0,380.0 L474.4,385.0 L473.1,389.4 L468.8,389.4 L462.5,389.4 L456.2,388.1 L451.2,388.1 L447.5,386.2 L443.8,385.6 L440.0,390.0 L437.5,391.2 L432.5,388.8 L427.5,386.2 L423.8,385.0 L421.2,382.5 L420.0,378.8 L418.1,375.0 L416.2,373.8 L410.0,375.0 L403.8,375.6 L397.5,376.9 L392.5,378.8 L387.5,379.4Z M458.1,351.2 L460.0,348.8 L462.5,346.9 L466.2,345.6 L468.1,348.1 L470.0,349.0 L472.5,348.1 L475.0,348.1 L478.8,346.9 L481.2,344.4 L483.8,346.2 L481.2,349.4 L480.0,351.9 L483.8,354.4 L487.5,356.2 L488.1,358.8 L485.0,360.0 L480.0,360.6 L475.0,360.0 L470.0,360.6 L465.0,361.9 L461.2,363.1 L457.5,362.5 L456.2,360.0 L457.5,356.2 L458.1,353.8Z M499.4,348.8 L502.5,345.6 L507.5,345.0 L511.5,346.5 L511.2,350.0 L508.8,352.5 L508.8,355.6 L512.5,358.1 L515.6,360.6 L514.4,363.8 L513.1,367.5 L513.8,371.9 L511.2,374.4 L507.5,374.4 L503.8,372.5 L502.5,368.8 L503.8,365.0 L503.1,360.0 L500.6,356.2 L498.8,352.5Z M467.5,388.1 L469.0,392.5 L471.0,397.5 L473.8,405.0 L476.2,411.2 L478.8,416.2 L480.2,421.2 L482.8,426.2 L486.5,431.2 L488.8,436.2 L490.2,438.5 L491.2,434.0 L490.2,429.0 L488.8,424.4 L486.2,418.8 L483.5,413.1 L480.8,407.5 L478.2,401.9 L475.6,396.9 L473.8,393.8 L472.8,390.6 L472.2,388.5 L470.6,390.6Z M500.0,388.8 L502.5,387.5 L505.0,391.9 L507.5,396.9 L511.2,400.6 L516.2,399.8 L518.8,402.5 L520.0,407.5 L515.0,406.2 L511.2,407.5 L506.2,405.0 L502.5,401.2 L500.0,396.9Z M500.0,391.2 L501.9,390.0 L505.0,396.2 L508.8,401.2 L512.5,405.6 L515.0,407.5 L515.0,411.9 L511.2,409.4 L507.5,405.0 L503.8,400.0 L501.2,395.6Z" fill="#fff" stroke="#fff" stroke-width="0.4" stroke-linejoin="round"/>
<path d="M97.5,266.2 L97.5,301.9 M136.9,339.5 L195.0,339.5 L195.6,338.1 L196.9,340.0 L201.2,341.2 L207.5,341.2 L212.5,343.1 L216.9,346.2 L220.0,349.4 L222.5,352.5 L223.1,356.2 L221.2,359.0 L222.5,360.2 L226.2,358.8 L230.0,355.6 L235.0,354.4 L238.8,351.9 L243.8,350.6 L247.5,349.4 L250.0,347.5 L248.8,345.0 L251.9,344.4 L254.4,345.6 L254.8,349.4 L253.8,351.2 M243.1,439.4 L243.8,443.8 L246.2,447.5 L250.0,450.0 L253.8,451.2 L254.4,455.0 L253.8,460.0 M268.1,446.2 L268.8,450.6 L270.0,453.8 M253.8,460.0 L256.9,463.1 L260.0,461.2 L262.5,456.9 L266.2,455.0 L270.0,453.8 L271.9,457.5 L272.5,461.2 L275.0,460.6 L280.0,459.4 L283.8,458.8 L287.5,458.5 M275.0,452.5 L275.6,460.0 M282.5,456.2 L281.9,459.4 M230.0,462.8 L235.0,465.0 L238.8,466.2 L241.2,470.0 L247.5,471.2 L248.8,467.5 L249.4,462.5 L253.8,460.0 M226.9,476.2 L230.0,477.5 L233.8,472.5 L236.9,468.8 L238.8,466.2 M247.5,471.2 L246.2,475.0 L242.5,478.8 L240.6,482.5 L242.5,486.9 L246.2,489.4 L248.1,491.9 L251.2,493.1 L255.0,490.0 L258.1,488.8 L259.4,492.5 L262.5,495.0 L267.5,497.5 L270.0,501.2 L270.6,504.4 L274.4,505.0 L275.6,508.8 L275.0,512.5 M251.2,493.1 L250.6,497.5 L251.2,502.5 L250.0,507.5 L249.4,511.2 L250.0,510.0 L252.5,516.2 L253.8,521.2 L251.9,526.2 L250.6,531.2 L249.4,537.5 L248.1,543.8 L247.5,550.0 L246.9,556.2 L246.2,562.5 L245.6,568.8 L245.2,575.0 L244.8,581.2 L243.8,587.5 L242.5,592.5 M253.8,520.6 L256.2,519.0 L261.2,518.5 L265.0,518.8 M265.0,518.8 L265.6,515.0 L268.1,513.1 L271.9,512.5 L273.8,515.0 L275.0,518.8 L278.8,519.4 L280.6,522.5 L281.2,526.2 L283.1,529.4 L281.2,531.9 L277.5,533.1 L273.8,532.5 L275.0,529.4 L274.4,526.9 L271.2,525.0 L267.5,522.5 L265.0,519.4 M273.8,515.0 L275.0,511.9 L275.6,510.0 M283.1,529.4 L280.0,533.8 L277.5,536.9 L275.6,540.6 L278.8,541.9 L281.9,544.4 L285.0,546.5 M275.6,540.6 L274.4,543.8 L273.8,547.5 L274.4,550.6 M203.1,423.1 L201.2,426.9 M782.2,266.2 L782.2,283.8 M425.0,288.8 L427.5,286.2 L430.0,282.5 L432.5,278.8 L436.2,275.0 L440.0,271.2 L443.8,269.4 L446.9,270.6 L448.8,270.0 L450.0,267.5 L455.0,266.9 L458.1,266.2 L461.2,267.5 M446.9,270.6 L448.1,275.0 L448.8,279.4 M461.2,267.5 L460.0,270.0 L461.2,275.0 L462.5,280.0 L463.8,285.0 L465.0,290.0 L464.4,293.1 L461.2,296.2 M425.0,288.8 L424.4,293.8 L423.8,298.8 L422.5,302.5 L423.1,305.6 M456.2,302.5 L457.5,306.2 L456.2,309.4 L457.5,312.5 L456.9,315.0 L455.0,317.5 L457.5,320.0 L462.5,318.8 L465.0,322.5 L467.5,325.0 L465.0,328.8 L470.0,328.1 L473.8,331.2 L478.8,333.8 L483.8,336.2 L485.0,340.0 M450.0,308.8 L453.8,309.4 L456.2,309.4 M445.6,315.0 L450.0,313.8 L453.8,315.0 L456.9,315.0 M445.0,320.6 L448.8,320.0 L452.5,321.2 L455.0,317.5 M450.0,321.9 L448.8,326.2 L450.0,328.8 L455.0,330.0 L462.5,328.8 L465.0,328.8 M430.0,322.5 L431.2,327.5 L430.0,332.5 L431.2,336.2 M448.8,326.2 L448.1,331.2 L449.4,335.0 L447.5,338.8 M418.1,322.5 L418.8,320.0 M412.8,326.5 L412.2,330.0 L411.2,333.1 L411.0,337.5 M405.0,332.5 L408.8,335.0 L411.9,337.5 L413.8,341.9 L412.5,345.0 L413.8,346.9 L416.2,348.1 L415.0,351.2 M411.9,337.5 L412.5,332.5 M425.0,336.2 L430.0,333.8 L435.0,335.6 L437.5,337.5 L432.5,339.4 L427.5,338.8 L425.0,336.2 M413.8,341.9 L418.8,343.1 L425.0,342.5 L425.0,336.2 M430.0,332.5 L435.0,335.0 L441.2,336.9 L446.9,337.5 M425.0,342.5 L430.0,343.8 L433.8,343.1 L437.5,340.6 L442.5,338.8 L446.9,338.1 M415.0,346.9 L420.0,346.2 L425.0,345.6 L430.0,343.8 M425.0,345.6 L426.2,348.8 L430.0,350.0 L433.8,348.8 L437.5,345.0 L442.5,343.8 L445.0,343.8 M433.8,343.1 L435.0,345.0 L437.5,345.0 M446.9,337.5 L448.1,340.6 L452.5,341.2 L456.2,340.6 L458.8,345.0 L461.2,346.9 M443.8,347.5 L445.0,343.8 L448.8,341.9 L452.5,341.2 M430.0,350.0 L433.8,352.5 L437.5,351.2 L441.2,350.0 L443.8,347.5 L445.0,353.1 L450.0,354.4 L456.2,353.1 L458.1,351.2 M437.5,351.2 L438.8,356.2 L441.2,360.0 L443.1,362.5 M441.2,350.0 L442.5,355.0 L445.0,357.5 L446.2,358.8 L451.2,359.4 L456.2,358.8 M443.1,362.5 L445.0,361.2 L447.5,360.0 L446.2,358.8 M455.0,361.9 L453.1,360.0 L456.2,358.8 M382.5,358.8 L381.9,365.0 L381.2,370.0 L382.5,373.8 M397.5,356.2 L402.5,357.2 L407.5,357.5 M481.2,353.8 L487.5,355.6 L492.5,357.5 L496.9,358.8 L500.0,357.5 M488.1,358.8 L491.2,360.0 L493.8,363.8 L494.4,367.5 L492.5,372.5 L487.5,373.8 L481.2,375.0 L476.2,375.6 M491.2,360.0 L496.2,361.2 L500.0,362.5 L503.8,365.0 M493.8,363.8 L497.5,365.0 L500.0,367.5 L502.5,368.8 M492.5,372.5 L495.0,377.5 L497.5,385.0 L500.0,390.0 L501.2,393.8 M486.2,375.0 L485.0,380.0 L481.2,383.8 L477.5,385.6 L474.4,386.2 M477.5,385.6 L481.2,386.2 L487.5,390.0 L495.0,393.8 L500.0,393.8 L501.2,393.8 L503.8,395.0 M481.2,386.2 L478.8,390.0 L475.0,395.0 M473.1,389.4 L473.8,392.5 L475.0,395.0 M475.0,380.0 L477.5,381.2 L477.5,385.6 M490.6,425.0 L493.8,426.2 L498.8,425.0 L505.0,422.5 L510.0,420.0 L511.2,416.2 L513.8,415.0 M516.2,411.2 L517.5,416.2 L515.0,420.0 L511.2,421.2 L507.5,422.5 L500.0,425.0 M510.6,421.9 L511.9,425.0 M396.2,386.2 L392.5,388.8 L386.2,392.5 L380.0,397.5 L380.0,401.2 L372.5,401.9 L370.0,406.2 L370.6,410.0 L370.0,413.8 L363.1,414.4 M380.0,401.2 L385.0,404.4 L386.2,427.5 L373.8,428.8 L372.5,427.5 L367.5,425.0 L363.8,424.4 M385.0,404.4 L405.0,418.8 L407.5,419.4 L423.1,408.8 L430.0,410.0 M417.5,385.0 L418.8,392.5 L418.1,401.2 L420.0,405.0 L423.1,408.8 M416.2,373.8 L415.6,378.8 L418.1,382.5 L417.5,386.2 L420.0,388.1 M451.9,387.5 L451.9,411.9 M430.0,410.0 L432.5,409.4 L449.4,417.5 L451.9,416.2 M451.9,412.2 L475.0,411.9 M430.0,410.0 L431.9,415.0 L431.2,425.0 L428.1,431.2 L428.8,435.0 M407.5,419.4 L406.9,427.5 L401.2,428.8 L397.5,430.0 M406.2,434.4 L410.0,432.5 L417.5,433.8 L425.0,433.1 L428.8,435.0 L431.2,437.5 L428.8,441.2 L425.0,446.2 L422.5,450.0 L418.8,453.1 M449.4,417.5 L448.8,427.5 L445.6,432.5 L447.5,438.8 M431.2,442.5 L435.0,446.2 L442.5,442.5 L447.5,438.8 M428.8,441.2 L431.2,442.5 L430.0,447.5 L431.2,455.0 M447.5,438.8 L452.5,441.9 L458.8,442.5 L463.8,441.2 L468.1,436.9 L469.4,441.2 L471.9,440.0 M480.0,422.5 L478.1,427.5 L476.2,432.5 L473.8,437.5 L471.9,442.5 L469.4,446.2 M480.0,426.2 L483.8,430.0 L487.5,435.0 L489.4,438.8 L491.2,442.5 L496.2,446.2 L501.2,446.9 M501.2,446.9 L493.8,453.8 L487.5,456.2 L485.0,456.9 M469.4,446.2 L472.5,451.2 L475.0,455.0 L480.0,456.9 L485.0,456.9 M447.5,438.8 L451.2,445.0 L455.0,450.0 L457.5,453.1 L462.5,454.4 L467.5,455.6 L472.5,454.4 L475.0,455.0 M431.2,455.0 L435.0,456.9 L440.0,453.8 L446.2,453.1 L453.8,453.1 L457.5,453.1 M485.0,456.9 L486.2,465.0 L487.5,466.2 M472.5,455.0 L471.2,460.0 L470.6,466.2 L480.0,471.2 L485.0,471.2 M418.8,461.2 L425.0,461.0 L430.0,461.2 L431.2,455.0 M430.0,461.2 L435.0,460.0 L436.2,465.0 L435.0,470.0 L433.8,475.0 M420.0,463.1 L423.1,463.1 L423.5,466.2 L420.0,466.5 M465.0,457.5 L463.8,462.5 L462.5,467.5 L461.2,472.5 L460.6,475.0 M363.1,432.5 L367.5,433.8 L372.5,435.0 L373.8,428.8 M363.8,435.0 L368.8,436.2 M366.2,436.2 L371.2,436.9 L376.2,436.2 L380.0,437.5 L381.2,440.0 L385.0,439.4 L387.5,437.5 L391.2,432.5 L397.5,430.0 M371.2,443.8 L373.8,441.2 L376.2,440.0 L380.0,441.2 L381.9,441.2 M375.0,448.1 L377.5,445.0 L380.0,441.2 M381.9,441.2 L381.2,447.5 L382.5,453.1 M392.5,440.0 L393.1,447.5 L392.5,453.1 M399.4,440.0 L400.0,450.0 M401.9,440.0 L402.5,450.0 M406.2,434.4 L405.0,441.2 L404.4,450.0 M387.5,437.5 L392.5,440.0 L399.4,440.0 L401.9,440.0 L403.8,436.2 L401.2,433.1 L397.5,430.0 M425.6,479.8 L433.8,479.8 L435.6,483.8 L440.0,484.0 L441.9,481.9 L445.0,482.5 L445.6,487.5 L446.2,492.5 L450.0,493.1 L455.0,493.8 L460.0,494.4 M446.2,492.5 L445.6,498.8 L446.2,505.0 L448.1,508.1 M424.0,506.9 L435.0,507.2 L442.5,509.8 L450.0,509.4 L451.9,508.1 M442.5,509.8 L442.2,520.0 L441.5,527.5 L441.2,535.6 L435.0,536.2 M451.9,508.1 L455.0,513.8 L457.5,517.5 L460.0,519.8 L465.0,520.0 M442.2,531.2 L447.5,528.8 L452.5,527.5 L456.2,522.5 L460.0,519.8 M451.9,508.1 L456.2,508.8 L460.0,506.2 L463.8,503.8 L468.8,500.0 M468.8,500.0 L468.8,507.5 L467.5,515.0 L465.0,520.0 M460.0,494.4 L462.5,496.9 L460.0,490.0 L460.6,486.2 L465.0,485.6 L468.8,487.5 L470.0,488.8 M472.5,493.1 L478.8,492.5 L483.5,491.2 M470.0,488.8 L471.2,495.0 L473.8,501.2 L472.5,506.2 L470.0,501.2 L468.8,500.0 M470.0,488.8 L472.5,493.1 M460.0,470.0 L461.9,476.2 L462.5,481.2 L465.0,485.6 M456.2,538.1 L459.4,535.6 L461.9,538.1 L458.8,540.6 L456.2,538.1 M464.4,530.0 L466.2,528.8 L467.5,530.6 L466.0,532.2 L464.4,530.0 M465.0,520.0 L466.2,525.0 L466.9,528.8 M476.2,470.0 L481.2,475.0 M461.9,472.5 L465.0,471.2 L468.8,471.9 M461.2,476.2 L463.8,475.6 M584.4,338.1 L582.5,341.2 L580.0,343.8 L576.2,346.2 L573.8,350.0 L570.0,351.2 L570.0,355.0 L568.8,358.1 M568.8,358.1 L563.8,356.9 L557.5,356.9 L552.5,358.1 L548.8,361.2 L543.8,362.5 L541.2,360.0 L538.8,356.2 L533.8,355.0 L530.0,353.8 L526.2,351.9 L522.5,350.0 L518.8,350.6 L517.5,355.0 L517.5,358.8 L515.0,360.0 M517.5,358.8 L522.5,358.1 L526.2,360.0 L530.0,363.8 L533.8,367.5 L537.5,370.0 L541.2,371.2 L543.8,368.1 M541.2,371.2 L537.5,373.1 L533.1,376.2 L531.2,377.5 L528.8,381.2 L529.4,386.2 L531.2,390.0 M541.2,371.2 L545.0,371.9 L548.8,370.0 L551.2,371.9 L556.2,371.2 L558.1,372.5 M543.8,368.1 L546.2,365.0 L550.0,363.8 L555.0,365.0 L556.2,368.8 L558.1,372.5 M548.8,361.2 L551.2,360.0 L555.0,358.8 L560.0,357.5 L565.0,358.1 L568.8,358.1 L566.2,361.2 L561.2,363.8 L557.5,365.0 L555.0,365.0 M545.0,362.5 L548.8,363.1 L550.0,363.8 M584.4,338.1 L588.8,341.2 L591.9,344.4 L592.5,348.8 L596.2,351.2 L601.2,353.1 L605.0,356.2 L610.0,357.5 L615.0,358.1 L621.2,360.0 L627.5,358.8 L633.8,357.5 L636.9,355.0 L637.5,351.2 L642.5,349.4 L647.5,347.5 L650.0,345.6 M600.0,352.5 L603.8,356.2 L610.0,357.5 L616.2,358.8 L622.5,360.0 L628.8,358.1 L633.8,356.2 L636.9,353.8 L637.5,350.6 L642.5,348.8 L647.5,346.9 L652.5,346.0 L654.8,345.0 M498.1,338.8 L500.0,334.4 L503.8,331.9 L508.8,330.6 L513.8,332.5 L518.8,333.1 L523.8,332.2 L528.1,333.1 L528.8,328.8 L528.1,324.4 L531.2,322.5 L537.5,320.6 L543.8,318.8 L548.8,318.8 L551.2,321.9 L556.2,323.8 L561.2,321.9 L563.8,323.8 L566.2,327.5 L568.8,331.2 L572.5,332.8 L577.5,333.1 L581.2,336.2 L584.4,338.1 L588.8,336.2 L593.8,333.8 L598.8,333.5 L603.8,335.0 L607.5,333.8 L608.1,330.6 L611.2,329.4 L615.0,330.6 L617.5,333.1 L622.5,333.8 L627.5,335.6 L632.5,337.5 L637.5,337.5 L642.5,335.6 L647.5,336.2 L650.0,336.0 L653.0,331.5 L657.0,327.0 L660.0,324.8 L663.8,325.0 L667.5,327.5 L670.0,332.5 L672.5,336.2 L676.2,338.8 L680.0,341.2 L685.0,341.9 L686.2,343.8 L684.4,347.5 L681.2,350.0 L678.8,351.2 L679.4,353.8 M530.6,403.5 L532.5,401.2 L533.1,397.5 L530.0,394.4 L529.4,390.0 L528.1,385.0 L529.4,380.0 L527.5,375.6 L522.5,372.5 L516.2,370.0 L531.2,377.5 L527.5,375.0 L522.5,372.5 L517.5,370.6 L513.8,371.9 M646.5,337.0 L651.0,339.5 L655.0,342.5 L651.0,346.0 M662.5,366.2 L666.2,363.8 L670.0,361.9 L673.8,360.0 L676.9,357.5 M668.8,370.0 L673.8,369.4 M529.4,392.5 L535.0,393.1 L540.0,392.5 L542.5,388.8 L546.2,387.5 L548.1,383.8 L551.2,381.2 L551.9,376.2 L552.5,372.5 L556.2,373.8 M547.5,407.5 L546.2,403.1 L546.9,399.4 L550.0,398.1 L553.8,395.0 L556.2,391.2 L557.5,387.5 L561.2,384.4 L565.0,385.0 M556.2,373.8 L558.8,376.2 L562.5,377.5 L566.2,376.2 L569.4,377.5 L568.1,381.2 L566.2,382.5 L565.0,385.0 M556.2,373.8 L555.0,377.5 L556.2,382.5 L558.8,385.0 L561.2,384.4 M565.0,385.0 L567.5,388.8 L570.0,391.9 L573.8,392.5 L577.5,394.4 L582.5,396.2 L586.2,397.5 M570.0,391.9 L570.0,395.0 L573.8,396.9 L578.8,398.8 L582.5,400.0 L586.2,400.6 L586.2,397.5 M586.2,397.5 L588.8,396.9 L592.5,396.2 L595.0,396.9 L600.0,394.4 L604.4,393.8 M588.8,396.9 L590.0,399.8 L594.4,399.4 L595.0,396.9 M586.2,400.6 L587.5,403.8 L586.9,407.5 L588.1,408.8 M590.0,400.0 L595.0,400.0 L600.0,398.1 L603.8,396.9 L604.4,393.8 M603.8,396.9 L602.5,401.2 L600.0,405.0 L598.8,408.8 L597.5,413.1 M587.5,403.8 L591.2,403.1 L595.0,403.8 L595.6,407.5 L595.0,410.0 M604.4,393.8 L607.5,396.2 L608.8,401.2 L610.0,406.2 L611.9,410.0 L613.8,412.5 M613.8,412.5 L611.2,415.0 L608.8,418.1 L607.5,421.2 L608.1,426.2 L609.4,430.0 L610.6,435.0 M613.8,412.5 L617.5,411.2 L620.6,413.1 L623.1,411.2 L626.2,410.6 L630.0,412.5 M620.6,413.1 L623.1,417.5 L625.0,421.2 L626.2,425.0 L626.2,428.8 M613.8,412.5 L615.0,416.2 L613.8,419.4 L617.5,421.2 L620.0,423.8 L622.5,426.2 L625.0,428.8 L626.2,428.8 L626.2,431.2 M618.1,432.5 L620.0,431.2 L625.0,431.2 L627.5,431.9 L628.1,435.0 L626.2,438.1 M636.2,461.2 L640.0,460.6 L643.8,457.5 L645.6,455.6 L648.8,455.6 M699.6,473.1 L699.6,486.2" fill="none" stroke="#fff" stroke-width="1.35" stroke-linejoin="round" stroke-linecap="round"/>
</g></svg>
<div id="logo" aria-label="Coherent Market Insights"><svg width="1280" height="720" viewBox="0 0 1280 720" aria-hidden="true"><path d="M1023.00,51.90 Q1024.32,49.92 1026.30,48.60 Q1028.28,49.92 1029.60,51.90 Q1028.28,53.88 1026.30,55.20 Q1024.32,53.88 1023.00,51.90Z" fill="#8cc63e"/><path d="M1023.00,60.10 Q1024.32,58.12 1026.30,56.80 Q1028.28,58.12 1029.60,60.10 Q1028.28,62.08 1026.30,63.40 Q1024.32,62.08 1023.00,60.10Z" fill="#8cc63e"/><path d="M1031.40,51.90 Q1032.72,49.92 1034.70,48.60 Q1036.68,49.92 1038.00,51.90 Q1036.68,53.88 1034.70,55.20 Q1032.72,53.88 1031.40,51.90Z" fill="#8cc63e"/><path d="M1031.40,60.10 Q1032.72,58.12 1034.70,56.80 Q1036.68,58.12 1038.00,60.10 Q1036.68,62.08 1034.70,63.40 Q1032.72,62.08 1031.40,60.10Z" fill="#8cc63e"/><path d="M1023.60,44.50 Q1024.84,42.88 1026.70,41.80 Q1028.56,42.88 1029.80,44.50 Q1028.56,46.12 1026.70,47.20 Q1024.84,46.12 1023.60,44.50Z" fill="#2f7d9f"/><path d="M1023.60,67.50 Q1024.84,65.88 1026.70,64.80 Q1028.56,65.88 1029.80,67.50 Q1028.56,69.12 1026.70,70.20 Q1024.84,69.12 1023.60,67.50Z" fill="#2f7d9f"/><path d="M1031.20,44.50 Q1032.44,42.88 1034.30,41.80 Q1036.16,42.88 1037.40,44.50 Q1036.16,46.12 1034.30,47.20 Q1032.44,46.12 1031.20,44.50Z" fill="#2f7d9f"/><path d="M1031.20,67.50 Q1032.44,65.88 1034.30,64.80 Q1036.16,65.88 1037.40,67.50 Q1036.16,69.12 1034.30,70.20 Q1032.44,69.12 1031.20,67.50Z" fill="#2f7d9f"/><path d="M1016.50,52.20 Q1017.54,50.28 1019.10,49.00 Q1020.66,50.28 1021.70,52.20 Q1020.66,54.12 1019.10,55.40 Q1017.54,54.12 1016.50,52.20Z" fill="#2f7d9f"/><path d="M1016.50,59.90 Q1017.54,57.98 1019.10,56.70 Q1020.66,57.98 1021.70,59.90 Q1020.66,61.82 1019.10,63.10 Q1017.54,61.82 1016.50,59.90Z" fill="#2f7d9f"/><path d="M1039.30,52.20 Q1040.34,50.28 1041.90,49.00 Q1043.46,50.28 1044.50,52.20 Q1043.46,54.12 1041.90,55.40 Q1040.34,54.12 1039.30,52.20Z" fill="#2f7d9f"/><path d="M1039.30,59.90 Q1040.34,57.98 1041.90,56.70 Q1043.46,57.98 1044.50,59.90 Q1043.46,61.82 1041.90,63.10 Q1040.34,61.82 1039.30,59.90Z" fill="#2f7d9f"/><rect x="1017.70" y="44.75" width="4.8" height="2.1" rx="0.88" fill="#c5185f" transform="rotate(42 1020.10 45.80)"/><rect x="1017.70" y="65.15" width="4.8" height="2.1" rx="0.88" fill="#c5185f" transform="rotate(-42 1020.10 66.20)"/><rect x="1038.50" y="44.75" width="4.8" height="2.1" rx="0.88" fill="#c5185f" transform="rotate(-42 1040.90 45.80)"/><rect x="1038.50" y="65.15" width="4.8" height="2.1" rx="0.88" fill="#c5185f" transform="rotate(42 1040.90 66.20)"/><rect x="1024.90" y="38.65" width="4.8" height="1.9" rx="0.79" fill="#5d2d70" transform="rotate(16 1027.30 39.60)"/><rect x="1013.15" y="50.40" width="1.9" height="4.8" rx="2.00" fill="#5d2d70" transform="rotate(14 1014.10 52.80)"/><rect x="1024.90" y="71.45" width="4.8" height="1.9" rx="0.79" fill="#5d2d70" transform="rotate(-16 1027.30 72.40)"/><rect x="1013.15" y="56.80" width="1.9" height="4.8" rx="2.00" fill="#5d2d70" transform="rotate(-14 1014.10 59.20)"/><rect x="1031.30" y="38.65" width="4.8" height="1.9" rx="0.79" fill="#5d2d70" transform="rotate(-16 1033.70 39.60)"/><rect x="1045.95" y="50.40" width="1.9" height="4.8" rx="2.00" fill="#5d2d70" transform="rotate(-14 1046.90 52.80)"/><rect x="1031.30" y="71.45" width="4.8" height="1.9" rx="0.79" fill="#5d2d70" transform="rotate(16 1033.70 72.40)"/><rect x="1045.95" y="56.80" width="1.9" height="4.8" rx="2.00" fill="#5d2d70" transform="rotate(14 1046.90 59.20)"/></svg></div>
<div class="sw" style="left:296px;background:#173560"></div>
<div class="sw" style="left:497px;background:#76c794"></div>
<div id="rule"></div>
<svg id="txt" width="1280" height="720" viewBox="0 0 1280 720">
<text transform="translate(39.85,69.90) scale(0.9251,1)" fill="#000" style="font:bold 39.24px 'Liberation Sans', sans-serif;">Regional Insights, 2025</text>
<text transform="translate(322.20,154.75) scale(0.9523,1)" fill="#000" style="font:normal 30.31px 'Liberation Sans', sans-serif;">Total Market Size:</text>
<text transform="translate(560.01,154.75) scale(0.9435,1)" fill="#000" style="font:bold 33.79px 'Liberation Sans', sans-serif;">USD 9.14 Bn</text>
<text transform="translate(323.00,653.10) scale(0.9644,1)" fill="#000" style="font:bold 14.39px 'Liberation Sans', sans-serif;">Dominant Region</text>
<text transform="translate(523.80,653.10) scale(0.9402,1)" fill="#000" style="font:bold 14.39px 'Liberation Sans', sans-serif;">Fastest Growing Region</text>
<text transform="translate(39.40,706.90) scale(0.9346,1)" fill="#000" style="font:bold 13.95px 'Liberation Sans', sans-serif;">Source:</text>
<text transform="translate(91.98,706.90) scale(1.0156,1)" fill="#000" style="font:normal 13.95px 'Liberation Sans', sans-serif;">Primary Research, Desk Research, Paid subscriptions, CMI Data Repository</text>
<text transform="translate(997.34,313.40) scale(0.9599,1)" fill="#fff" style="font:bold 53.78px 'Liberation Sans', sans-serif;">38.0%</text>
<text transform="translate(995.90,343.90) scale(0.9992,1)" fill="#fff" style="font:bold 21.08px 'Liberation Sans', sans-serif;">North America</text>
<text transform="translate(1147.80,343.90) scale(1.0170,1)" fill="#fff" style="font:normal 21.08px 'Liberation Sans', sans-serif;">- Estimated</text>
<text transform="translate(996.57,373.00) scale(1.0259,1)" fill="#fff" style="font:normal 20.93px 'Liberation Sans', sans-serif;">Market Revenue Share,</text>
<text transform="translate(995.86,401.80) scale(1.0433,1)" fill="#fff" style="font:normal 20.93px 'Liberation Sans', sans-serif;">2025</text>
<text transform="translate(996.20,496.25) scale(1.0517,1)" fill="#fff" style="font:normal 33.36px 'Liberation Sans', sans-serif;">Museum</text>
<text transform="translate(996.17,541.25) scale(1.0670,1)" fill="#fff" style="font:normal 33.21px 'Liberation Sans', sans-serif;">Market</text>
<text transform="translate(968.86,72.90) scale(1.0719,1)" fill="#1f3864" style="font:normal 55.44px 'Liberation Serif', serif;stroke:#1f3864;stroke-width:0.5px;">C</text>
<text x="1085.72 1127.37 1159.66 1193.22 1224.77 1266.56" y="72.30" transform="scale(0.9700,1)" fill="#1f3864" style="font:normal 47.80px 'Liberation Serif', serif;stroke:#1f3864;stroke-width:0.5px;">HERENT</text>
<text x="971.08 997.55 1018.42 1040.20 1060.17 1080.90" y="94.60" transform="scale(1.0000,1)" fill="#1f3864" style="font:normal 19.33px 'Liberation Sans', sans-serif;">MARKET</text>
<text x="1111.55 1125.62 1148.05 1168.55 1183.00 1205.75 1228.08 1247.75" y="94.60" transform="scale(1.0000,1)" fill="#1f3864" style="font:normal 19.33px 'Liberation Sans', sans-serif;">INSIGHTS</text>
</svg>
<div id="frame"></div>
</body></html>
